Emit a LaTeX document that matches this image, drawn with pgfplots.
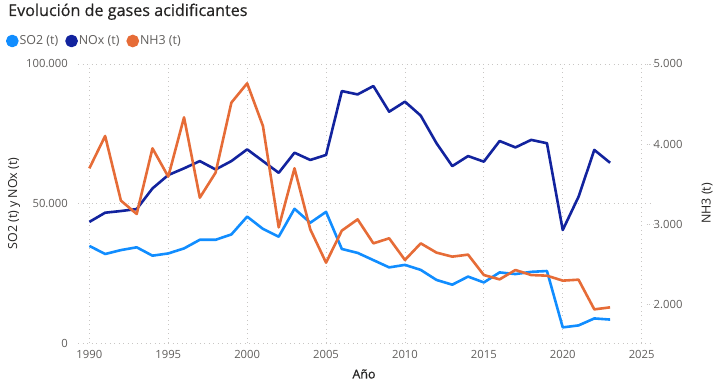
\documentclass[border=0pt]{standalone}
\usepackage{fontspec}
\setmainfont{Open Sans}
\newfontfamily\titlefont{Open Sans}[FakeBold=0.5]
\usepackage{pgfplots}
\pgfplotsset{compat=1.18}
\definecolor{cso}{HTML}{118DFF}
\definecolor{cno}{HTML}{12239E}
\definecolor{cnh}{HTML}{E66C37}
\definecolor{ctick}{HTML}{605E5C}
\definecolor{cgrid}{HTML}{C8C6C4}
\definecolor{ctitle}{HTML}{252423}
\pgfplotstableread{
year so2 nox
1990 34800 43400
1991 31900 46700
1992 33300 47300
1993 34300 48000
1994 31300 55400
1995 32100 60200
1996 33900 62600
1997 37000 65200
1998 37000 62200
1999 38900 65200
2000 45300 69400
2001 40900 65200
2002 38100 61000
2003 48100 68200
2004 43100 65600
2005 47000 67400
2006 33700 90300
2007 32300 89100
2008 29700 92100
2009 27100 82900
2010 28000 86500
2011 26200 81500
2012 22600 71600
2013 20900 63400
2014 23800 67000
2015 21700 65000
2016 25300 72400
2017 24700 70100
2018 25500 72800
2019 25800 71600
2020 5600 40500
2021 6300 52400
2022 8800 69200
2023 8400 64600
}\tabA
\pgfplotstableread{
year nh3
1990 3696
1991 4100
1992 3292
1993 3125
1994 3946
1995 3592
1996 4333
1997 3329
1998 3642
1999 4517
2000 4758
2001 4225
2002 2958
2003 3696
2004 2933
2005 2517
2006 2917
2007 3058
2008 2758
2009 2821
2010 2550
2011 2758
2012 2642
2013 2592
2014 2617
2015 2362
2016 2308
2017 2425
2018 2362
2019 2354
2020 2292
2021 2304
2022 1933
2023 1958
}\tabB
\begin{document}
\begin{tikzpicture}
\useasboundingbox (0,0) rectangle (719bp,389bp);
\node[anchor=base west, inner sep=0pt, text=ctitle, font=\titlefont\fontsize{16.2}{19}\selectfont] at (8bp,373bp) {Evolución de gases acidificantes};
\begin{axis}[
  at={(78bp,46bp)}, anchor=south west,
  scale only axis, width=572bp, height=279bp,
  xmin=1989.28, xmax=2025.53, ymin=0, ymax=100000,
  axis line style={draw=none},
  major tick length=0pt,
  xtick={1990,1995,...,2025},
  ytick={0,50000,100000},
  grid=major,
  major grid style={draw=cgrid, line width=0.9bp, dash pattern=on 0.9bp off 3.6bp},
  ticklabel style={font=\fontsize{11.3}{13}\selectfont, text=ctick},
  xticklabel style={/pgf/number format/1000 sep={}, /pgf/number format/assume math mode=true, anchor=north, inner sep=0pt, yshift=-7bp},
  yticklabel style={/pgf/number format/fixed, /pgf/number format/1000 sep={.}, /pgf/number format/assume math mode=true, anchor=east, inner sep=0pt, xshift=-10bp},
  scaled y ticks=false,
  ylabel={SO2 (t) y NOx (t)},
  ylabel style={at={(axis description cs:-0.1119,0.5)}, anchor=center, font=\fontsize{12.5}{15}\selectfont, text=ctitle},
  xlabel={Año},
  xlabel style={at={(axis description cs:0.5,-0.111)}, anchor=center, font=\titlefont\fontsize{12.5}{15}\selectfont, text=ctitle},
  legend columns=-1,
  legend image code/.code={\fill[#1] (5bp,0bp) circle (5bp);},
  legend style={draw=none, fill=none, inner sep=0pt, outer sep=0pt,
    font=\fontsize{12.5}{15}\selectfont, text=ctick,
    at={(axis description cs:0,1)}, anchor=west, xshift=-72bp, yshift=23bp,
    nodes={inner sep=1bp},
    /tikz/every even column/.append style={column sep=6bp}},
]
\addplot[color=cso, line width=2.6bp, line join=round] table[x=year, y=so2] {\tabA};
\addlegendentry{SO2 (t)}
\addplot[color=cno, line width=2.6bp, line join=round] table[x=year, y=nox] {\tabA};
\addlegendentry{NOx (t)}
\addlegendimage{color=cnh, line width=2.6bp}
\addlegendentry{NH3 (t)}
\end{axis}
\begin{axis}[
  at={(78bp,46bp)}, anchor=south west,
  scale only axis, width=572bp, height=279bp,
  xmin=1989.28, xmax=2025.53, ymin=1512.5, ymax=5000,
  axis x line=none,
  axis y line*=right,
  axis line style={draw=none},
  ytick={2000,3000,4000,5000},
  major tick length=7bp,
  tick align=center,
  ytick style={draw=cgrid, line width=0.9bp, dash pattern=on 0.9bp off 2.5bp},
  ticklabel style={font=\fontsize{11.3}{13}\selectfont, text=ctick},
  yticklabel style={/pgf/number format/fixed, /pgf/number format/1000 sep={.}, /pgf/number format/assume math mode=true, anchor=west, inner sep=0pt},
  scaled y ticks=false,
  ylabel={NH3 (t)},
  ylabel style={at={(axis description cs:1.0997,0.5)}, anchor=center, font=\fontsize{12.5}{15}\selectfont, text=ctitle},
]
\addplot[color=cnh, line width=2.6bp, line join=round] table[x=year, y=nh3] {\tabB};
\end{axis}
\end{tikzpicture}
\end{document}
